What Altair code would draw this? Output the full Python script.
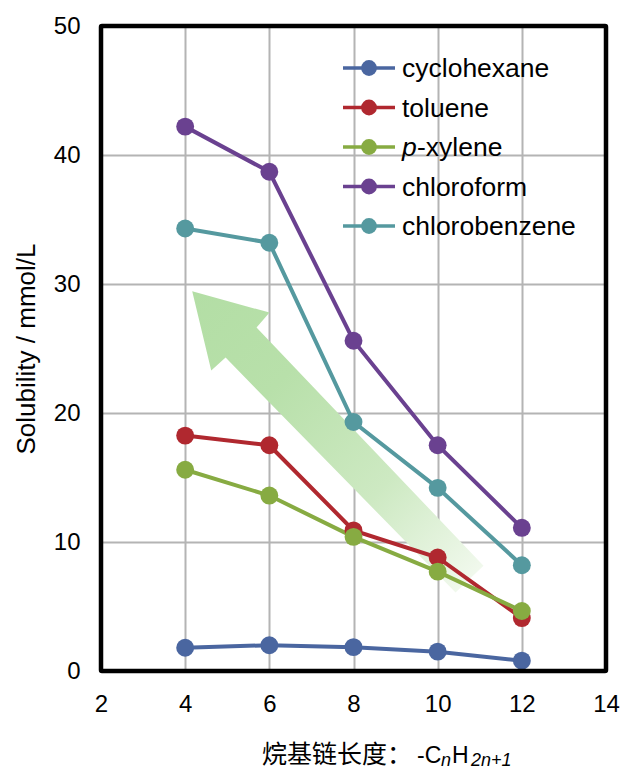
import altair as alt
import pandas as pd

# ---- data ----
chain_length = [4, 6, 8, 10, 12]
series_names = ["cyclohexane", "toluene", "p-xylene", "chloroform", "chlorobenzene"]
cyclohexane = [1.8, 2.0, 1.85, 1.5, 0.8]
toluene = [18.25, 17.5, 10.9, 8.8, 4.1]
p_xylene = [15.6, 13.6, 10.4, 7.7, 4.65]
chloroform = [42.2, 38.7, 25.6, 17.5, 11.1]
chlorobenzene = [34.3, 33.2, 19.3, 14.2, 8.2]
colors = ["#4a66a0", "#b0282f", "#87ab42", "#6a4190", "#55999f"]
x_ticks = [2, 4, 6, 8, 10, 12, 14]
y_ticks = [0, 10, 20, 30, 40, 50]
# annotation arrow centre (data units)
arrow_x = [7.63]
arrow_y = [17.75]

values = [cyclohexane, toluene, p_xylene, chloroform, chlorobenzene]
rows = []
for name, vals in zip(series_names, values):
    for n, v in zip(chain_length, vals):
        rows.append({"series": name, "n": n, "solubility": v})
df = pd.DataFrame(rows)

FONT = "Liberation Sans"
W, H = 505, 645

xenc = alt.X("n:Q", scale=alt.Scale(domain=[2, 14], nice=False, zero=False),
             axis=alt.Axis(values=x_ticks, title=None, labelPadding=21, labelFlush=False))
yenc = alt.Y("solubility:Q", scale=alt.Scale(domain=[0, 50], nice=False),
             axis=alt.Axis(values=y_ticks, title="Solubility / mmol/L",
                           labelPadding=21, labelFlush=False,
                           titleFontSize=26, titleFont=FONT,
                           titleFontWeight="normal", titleColor="black",
                           titleAngle=-90, titleX=-67, titleY=H / 2,
                           titleAlign="center", titleBaseline="alphabetic"))
cenc = alt.Color("series:N", scale=alt.Scale(domain=series_names, range=colors), legend=None)

# arrow annotation (custom symbol with gradient fill)
ARROW = ("M-0.965,-0.998L-0.453,-0.857L-0.539,-0.758L0.964,0.819"
         "L0.779,0.997L-0.744,-0.559L-0.839,-0.473Z")
grad = alt.LinearGradient(
    gradient="linear", x1=1, y1=1, x2=0, y2=0,
    stops=[alt.GradientStop(offset=0, color="#f6fbf3"),
           alt.GradientStop(offset=0.35, color="#cde9c2"),
           alt.GradientStop(offset=0.7, color="#b8e0aa"),
           alt.GradientStop(offset=1, color="#b3dea5")])
arrow = alt.Chart(pd.DataFrame({"n": arrow_x, "solubility": arrow_y})).mark_point(
    shape=ARROW, size=91204, filled=True, fill=grad, opacity=1, strokeWidth=0
).encode(x=xenc, y=yenc)

lines = alt.Chart(df).mark_line(strokeWidth=4).encode(x=xenc, y=yenc, color=cenc, detail="series:N")
points = alt.Chart(df).mark_point(filled=True, size=320, opacity=1).encode(
    x=xenc, y=yenc, color=cenc)

frame = alt.Chart(pd.DataFrame({"f": [0]})).mark_rect(
    fill="transparent", stroke="black", strokeWidth=4.5, cornerRadius=1
).encode(x=alt.value(0), x2=alt.value(W), y=alt.value(0), y2=alt.value(H))

layers = [arrow, lines, points, frame]

# manual legend
for i, name in enumerate(series_names):
    yv = 42 + i * 39.5
    one = pd.DataFrame({"series": [name]})
    layers.append(alt.Chart(one).mark_rule(strokeWidth=3.5, color=colors[i]).encode(
        x=alt.value(242), x2=alt.value(294), y=alt.value(yv)))
    layers.append(alt.Chart(one).mark_point(filled=True, size=250, opacity=1, color=colors[i]).encode(
        x=alt.value(268), y=alt.value(yv)))
    if name == "p-xylene":
        layers.append(alt.Chart(one).mark_text(text="p", font=FONT, fontStyle="italic", fontSize=26.5,
                                               align="left", baseline="middle", dy=1, color="black").encode(
            x=alt.value(301), y=alt.value(yv)))
        layers.append(alt.Chart(one).mark_text(text="-xylene", font=FONT, fontSize=26.5,
                                               align="left", baseline="middle", dy=1, color="black").encode(
            x=alt.value(316), y=alt.value(yv)))
    else:
        layers.append(alt.Chart(one).mark_text(font=FONT, fontSize=26.5, align="left", baseline="middle",
                                               dy=1, color="black").encode(
            x=alt.value(301), y=alt.value(yv), text="series:N"))

# x-axis title with subscripts
title_parts = [
    ("烷基链长度：", "Noto Sans CJK SC", "normal", 25, 161, 737),
    ("-C", FONT, "normal", 23, 316, 737),
    ("n", FONT, "italic", 18, 340, 740),
    ("H", FONT, "normal", 23, 351, 737),
    ("2n+1", FONT, "italic", 18, 370, 740),
]
for txt, fnt, sty, fs, xv, yv in title_parts:
    layers.append(alt.Chart(pd.DataFrame({"t": [txt]})).mark_text(
        text=txt, font=fnt, fontStyle=sty, fontSize=fs, align="left",
        baseline="alphabetic", color="black").encode(x=alt.value(xv), y=alt.value(yv)))

chart = alt.layer(*layers).properties(
    width=W, height=H,
    autosize=alt.AutoSizeParams(type="none"),
    padding={"left": 101, "top": 26, "right": 18, "bottom": 98},
    background="white",
).configure_axis(
    labelFont=FONT, labelFontSize=24, labelColor="black",
    grid=True, gridColor="#b4b4b4", gridWidth=2,
    domain=False, ticks=False,
).configure_view(stroke=None)

chart.save("out.html", embed_options={"renderer": "svg", "actions": False})
